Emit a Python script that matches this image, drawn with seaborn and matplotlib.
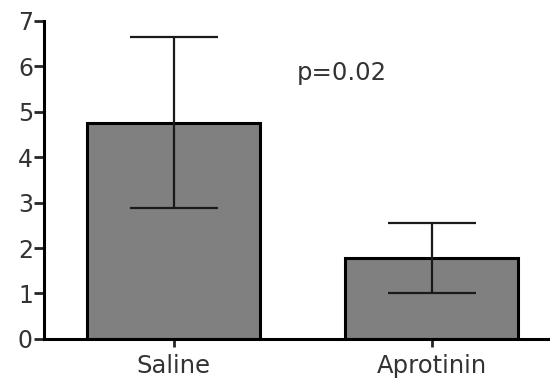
import numpy as np
import pandas as pd
import seaborn as sns
import matplotlib.pyplot as plt

groups = ["Saline", "Aprotinin"]
means = [4.76, 1.77]
errors = [1.88, 0.77]
p_label = "p=0.02"
y_ticks = [0, 1, 2, 3, 4, 5, 6, 7]

sns.set_style("ticks")
plt.rcParams['font.family'] = ['DejaVu Sans']

df = pd.DataFrame({"group": groups, "value": means})

fig = plt.figure(figsize=(5.5, 3.8), dpi=100)
ax = fig.add_axes([0.08, 0.108, 0.92, 0.8376])

sns.barplot(data=df, x="group", y="value", color="#808080", saturation=1,
            edgecolor="black", linewidth=2.2, width=0.67, errorbar=None, ax=ax)

ax.errorbar(x=np.arange(len(groups)), y=means, yerr=errors, fmt="none",
            ecolor="#1a1a1a", elinewidth=1.6, capsize=32, capthick=1.6, zorder=5)

ax.text(0.65, 5.85, p_label, ha="center", va="center", fontsize=17.5, color="#333333")

ax.set_ylim(0, 7)
ax.set_xlim(-0.502, 1.459)
ax.set_yticks(y_ticks)
ax.set_xlabel("")
ax.set_ylabel("")
sns.despine(ax=ax)
for s in ["left", "bottom"]:
    ax.spines[s].set_linewidth(2.2)
    ax.spines[s].set_color("black")
ax.tick_params(axis="y", length=7, width=2, pad=1, labelsize=17, labelcolor="#333333")
ax.tick_params(axis="x", length=6, width=2, pad=5, labelsize=17.5, labelcolor="#333333")

fig.savefig("out.png", dpi=100)
